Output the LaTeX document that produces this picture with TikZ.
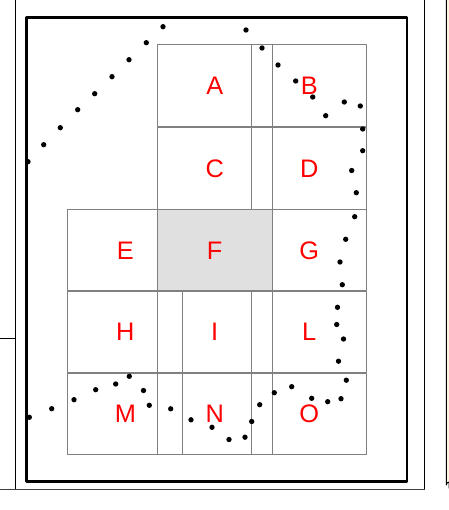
\documentclass[tikz,border=0pt]{standalone}
\usepackage{fontspec}
\setsansfont{Liberation Sans}
\definecolor{Tline}{RGB}{128,128,128}
\definecolor{Ffill}{RGB}{224,224,224}
\definecolor{Cream}{RGB}{252,245,222}
\definecolor{Lred}{RGB}{255,0,0}

\begin{document}
\begin{tikzpicture}[x=0.75pt,y=-0.75pt,line cap=round,line join=round,
  tile/.style={rectangle,draw=Tline,line width=0.75pt,minimum width=86pt,minimum height=61pt,
    inner sep=0pt,outer sep=0pt,text=Lred,font=\sffamily\fontsize{19}{20}\selectfont},
  blob/.style={fill=black}]
\path[use as bounding box] (0,0) rectangle (449,510);
% page frame
\fill[Cream] (446.3,0) -- (446.3,485) arc[start angle=180,end angle=270,radius=3] -- (449,488) -- (449,0) -- cycle;
\draw[line width=0.75pt] (446.3,0) -- (446.3,485) arc[start angle=180,end angle=270,radius=3] -- (449,488);
\draw[line width=0.75pt] (15,0) -- (15,489.3);
\draw[line width=0.75pt] (424.4,0) -- (424.4,489.3);
\draw[line width=0.75pt,black!75] (0,489.3) -- (424.4,489.3);
\draw[line width=0.75pt] (0,338.3) -- (15,338.3);
\draw[line width=2pt] (26.7,17.2) rectangle (407,481.3);
% tiles
\node[tile] (tA) at (214.7,85.5) {A};
\node[tile] (tB) at (309.2,85.5) {B};
\node[tile] (tC) at (214.7,168.6) {C};
\node[tile] (tD) at (309.2,168.6) {D};
\node[tile] (tE) at (125.3,250.3) {E};
\node[tile] (tG) at (309.2,250.3) {G};
\node[tile,fill=Ffill] (tF) at (214.7,250.3) {F};
\node[tile] (tH) at (125.3,332.2) {H};
\node[tile] (tI) at (214.7,332.2) {I};
\node[tile] (tL) at (309.2,332.2) {L};
\node[tile] (tM) at (125.3,413.8) {M};
\node[tile] (tN) at (214.7,413.8) {N};
\node[tile] (tO) at (309.2,413.8) {O};
% points
\fill[blob] (28,161.7) circle[radius=2pt];
\fill[blob] (43.7,144.7) circle[radius=2pt];
\fill[blob] (60.3,127.7) circle[radius=2pt];
\fill[blob] (77.7,109.7) circle[radius=2pt];
\fill[blob] (94.7,93.7) circle[radius=2pt];
\fill[blob] (112,76.7) circle[radius=2pt];
\fill[blob] (129,59.7) circle[radius=2pt];
\fill[blob] (146.3,42.7) circle[radius=2pt];
\fill[blob] (163,26.7) circle[radius=2pt];
\fill[blob] (246,30) circle[radius=2pt];
\fill[blob] (262,48) circle[radius=2pt];
\fill[blob] (278,65) circle[radius=2pt];
\fill[blob] (295.7,81) circle[radius=2pt];
\fill[blob] (312.7,97) circle[radius=2pt];
\fill[blob] (325.7,115.7) circle[radius=2pt];
\fill[blob] (344.3,102) circle[radius=2pt];
\fill[blob] (360.3,106) circle[radius=2pt];
\fill[blob] (362.7,129) circle[radius=2pt];
\fill[blob] (362.7,150.7) circle[radius=2pt];
\fill[blob] (351.7,170.5) circle[radius=2pt];
\fill[blob] (356.3,192.7) circle[radius=2pt];
\fill[blob] (354.7,216.7) circle[radius=2pt];
\fill[blob] (345.7,239.3) circle[radius=2pt];
\fill[blob] (340,262) circle[radius=2pt];
\fill[blob] (342.3,284.7) circle[radius=2pt];
\fill[blob] (337.5,307.3) circle[radius=2pt];
\fill[blob] (336.7,324.5) circle[radius=2pt];
\fill[blob] (343.5,339) circle[radius=2pt];
\fill[blob] (338.5,361.2) circle[radius=2pt];
\fill[blob] (346.3,380.2) circle[radius=2pt];
\fill[blob] (341,398.7) circle[radius=2pt];
\fill[blob] (327.7,401.7) circle[radius=2pt];
\fill[blob] (311.7,398.3) circle[radius=2pt];
\fill[blob] (291.7,386.7) circle[radius=2pt];
\fill[blob] (274.3,392.7) circle[radius=2pt];
\fill[blob] (259.7,404.7) circle[radius=2pt];
\fill[blob] (251.7,421.5) circle[radius=2pt];
\fill[blob] (245,437.2) circle[radius=2pt];
\fill[blob] (229,439.5) circle[radius=2pt];
\fill[blob] (212,427.3) circle[radius=2pt];
\fill[blob] (191,419.8) circle[radius=2pt];
\fill[blob] (170.7,408.8) circle[radius=2pt];
\fill[blob] (149.3,405.3) circle[radius=2pt];
\fill[blob] (143.5,390.5) circle[radius=2pt];
\fill[blob] (129.3,376.3) circle[radius=2pt];
\fill[blob] (115.7,384) circle[radius=2pt];
\fill[blob] (95.7,389.7) circle[radius=2pt];
\fill[blob] (74,399.7) circle[radius=2pt];
\fill[blob] (51.7,408.7) circle[radius=2pt];
\fill[blob] (29.3,417.3) circle[radius=2pt];
\end{tikzpicture}
\end{document}
